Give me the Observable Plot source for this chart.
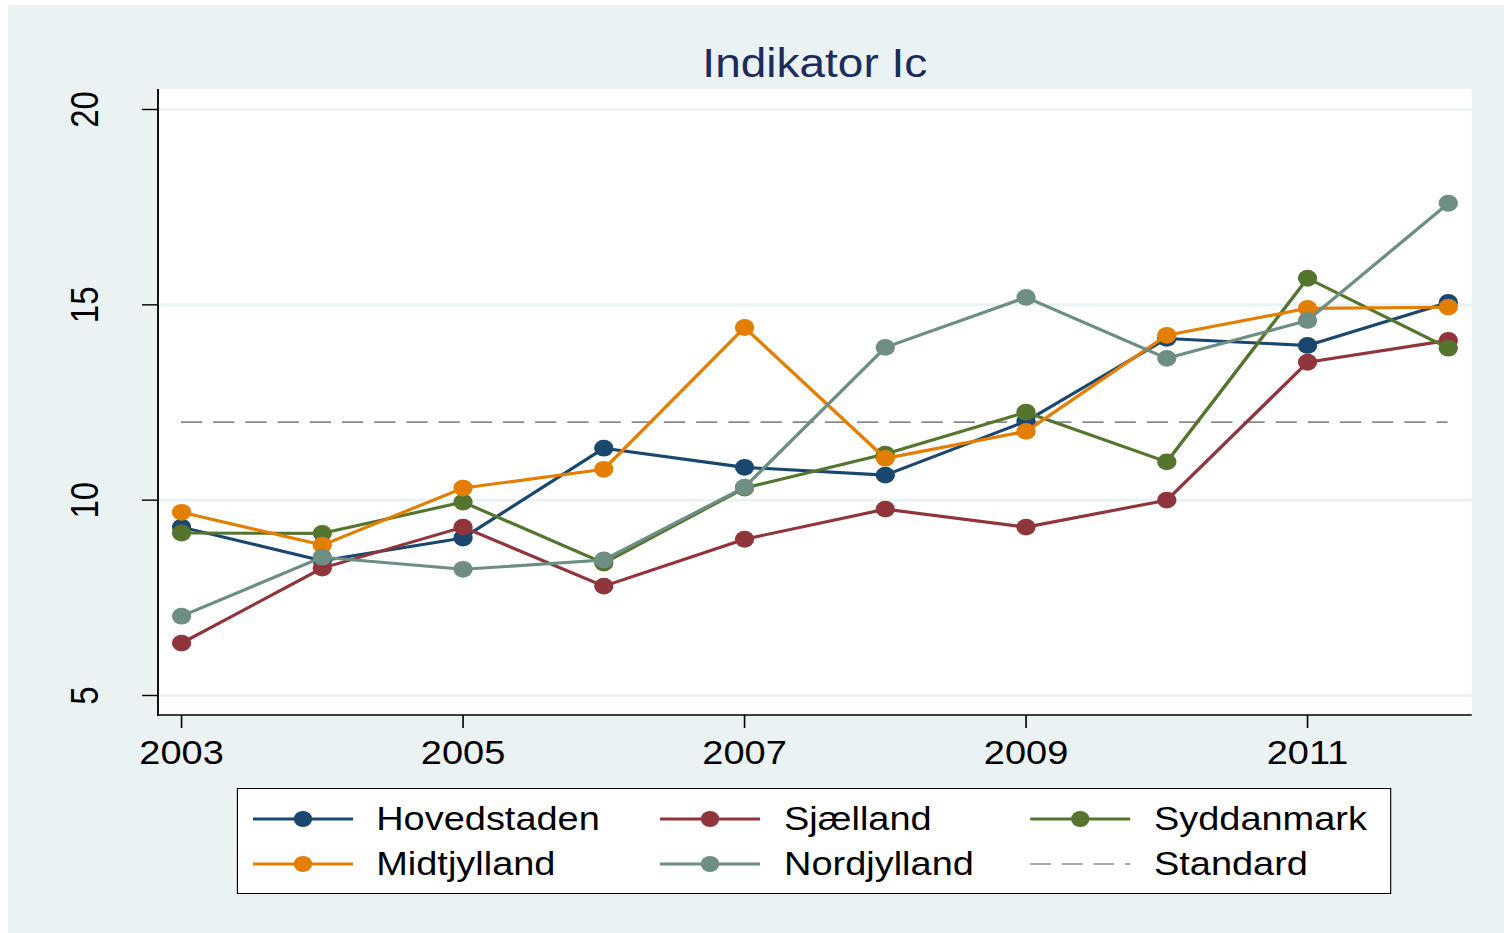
<!DOCTYPE html>
<html>
<head>
<meta charset="utf-8">
<script src="https://cdn.jsdelivr.net/npm/d3@7"></script>
<script src="https://cdn.jsdelivr.net/npm/@observablehq/plot@0.6"></script>
<style>
html, body { margin: 0; padding: 0; background: #ffffff; overflow: hidden; }
#stage { position: absolute; left: 0; top: 0; width: 1308px; height: 933px;
  transform: scaleX(1.1498); transform-origin: 0 0;
  font-family: "Liberation Sans", Arial, sans-serif; }
#panel { position: absolute; left: 7px; top: 5px; right: 0; bottom: 0; background: #EAF2F3; }
#title { position: absolute; left: 137.4px; width: 1142.6px; top: 43px; line-height: 40px;
  text-align: center; font-size: 40px; color: #1c2c5c; }
#chart { position: absolute; left: 0; top: 85px; }
#legend { position: absolute; left: 206px; top: 788px; width: 1004px; height: 106px;
  box-sizing: border-box; border: 1.4px solid #000; background: #fff; }
.item { position: absolute; height: 40px; display: flex; align-items: center;
  font-size: 33px; line-height: 40px; color: #000; white-space: nowrap; }
.item svg { margin-right: 20.6px; overflow: visible; }
</style>
</head>
<body>
<div id="stage">
  <div id="panel"></div>
  <div id="title"></div>
  <div id="chart"></div>
  <div id="legend"></div>
</div>
<script>
// ---- data ----
const years = [2003, 2004, 2005, 2006, 2007, 2008, 2009, 2010, 2011, 2012];
const seriesNames = ["Hovedstaden", "Sjælland", "Syddanmark", "Midtjylland", "Nordjylland"];
const hovedstaden = [9.31, 8.45, 9.03, 11.33, 10.84, 10.64, 12.02, 14.14, 13.96, 15.06];
const sjaelland   = [6.34, 8.26, 9.31, 7.80, 9.00, 9.77, 9.31, 10.00, 13.53, 14.09];
const syddanmark  = [9.16, 9.15, 9.95, 8.39, 10.31, 11.18, 12.25, 10.98, 15.68, 13.89];
const midtjylland = [9.69, 8.85, 10.31, 10.79, 14.42, 11.07, 11.76, 14.22, 14.91, 14.94];
const nordjylland = [7.03, 8.54, 8.23, 8.47, 10.33, 13.91, 15.19, 13.63, 14.60, 17.60];
const standardValue = 12;
const standardLabel = "Standard";
const xTicks = [2003, 2005, 2007, 2009, 2011];
const yTicks = [5, 10, 15, 20];
const titleText = "Indikator Ic";

// ---- styles ----
const colors = ["#1A476F", "#90353B", "#55752F", "#E37E00", "#6E8E84"];
const bg = "#EAF2F3";
const dash = "18.5,9.5";

const seriesValues = [hovedstaden, sjaelland, syddanmark, midtjylland, nordjylland];
const rows = [];
seriesNames.forEach((name, i) => {
  years.forEach((yr, j) => rows.push({region: name, year: yr, value: seriesValues[i][j]}));
});

document.getElementById("title").textContent = titleText;

const frameBg = (index, scales, values, dims) => {
  const g = d3.create("svg:g");
  g.append("rect")
    .attr("x", dims.marginLeft).attr("y", dims.marginTop)
    .attr("width", dims.width - dims.marginLeft - dims.marginRight)
    .attr("height", dims.height - dims.marginTop - dims.marginBottom)
    .attr("fill", "white");
  return g.node();
};
const axisLines = (index, scales, values, dims) => {
  const g = d3.create("svg:g").attr("stroke", "#000").attr("stroke-width", 1.6);
  const x0 = dims.marginLeft, x1 = dims.width - dims.marginRight;
  const y0 = dims.marginTop, y1 = dims.height - dims.marginBottom;
  g.append("line").attr("x1", x0).attr("x2", x0).attr("y1", y0).attr("y2", y1 + 0.8);
  g.append("line").attr("x1", x0 - 0.8).attr("x2", x1).attr("y1", y1).attr("y2", y1);
  return g.node();
};

const marks = [
  frameBg,
  Plot.gridY(yTicks, {stroke: bg, strokeOpacity: 1, strokeWidth: 2.6}),
  Plot.ruleY([standardValue], {x1: years[0], x2: years[years.length - 1],
    stroke: "#8a8a8a", strokeWidth: 1.7, strokeDasharray: dash}),
];
seriesNames.forEach((name, i) => {
  const d = rows.filter(r => r.region === name);
  marks.push(Plot.line(d, {x: "year", y: "value", stroke: colors[i], strokeWidth: 3.1}));
  marks.push(Plot.dot(d, {x: "year", y: "value", r: 8.4, fill: colors[i], stroke: "none"}));
});
marks.push(axisLines);
marks.push(Plot.axisX(xTicks, {tickSize: 13, tickPadding: 12, tickFormat: "d", label: null,
  fontSize: 33, stroke: "#000", strokeWidth: 1.4}));
marks.push(Plot.axisY(yTicks, {tickSize: 13.9, tickPadding: 39, tickRotate: -90, label: null,
  fontSize: 33, stroke: "#000", strokeWidth: 1.4}));

const chart = Plot.plot({
  width: 1308,
  height: 700,
  marginLeft: 137.4,
  marginRight: 28,
  marginTop: 4,
  marginBottom: 70,
  style: {background: "transparent", fontFamily: "'Liberation Sans', Arial, sans-serif", color: "#000", overflow: "visible"},
  x: {domain: [years[0], years[years.length - 1]], insetLeft: 20, insetRight: 20.9},
  y: {domain: [yTicks[0], yTicks[yTicks.length - 1]], insetTop: 20, insetBottom: 20},
  marks
});
document.getElementById("chart").appendChild(chart);

// ---- legend ----
const legend = document.getElementById("legend");
const legendItems = [
  {label: seriesNames[0], color: colors[0], type: "series"},
  {label: seriesNames[1], color: colors[1], type: "series"},
  {label: seriesNames[2], color: colors[2], type: "series"},
  {label: seriesNames[3], color: colors[3], type: "series"},
  {label: seriesNames[4], color: colors[4], type: "series"},
  {label: standardLabel, color: "#8c8c8c", type: "dash"}
];
const colLeft = [12.6, 367.3, 689];
const rowTop = [9.6, 54.6];
legendItems.forEach((it, k) => {
  const div = document.createElement("div");
  div.className = "item";
  div.style.left = colLeft[k % 3] + "px";
  div.style.top = rowTop[Math.floor(k / 3)] + "px";
  const svg = d3.create("svg").attr("width", 87).attr("height", 20);
  if (it.type === "series") {
    svg.append("line").attr("x1", 0).attr("x2", 87).attr("y1", 10).attr("y2", 10)
      .attr("stroke", it.color).attr("stroke-width", 2.8);
    svg.append("circle").attr("cx", 43.5).attr("cy", 10).attr("r", 8).attr("fill", it.color);
  } else {
    svg.append("line").attr("x1", 0).attr("x2", 87).attr("y1", 10).attr("y2", 10)
      .attr("stroke", it.color).attr("stroke-width", 1.4).attr("stroke-dasharray", "18,9.5");
  }
  div.appendChild(svg.node());
  const span = document.createElement("span");
  span.textContent = it.label;
  div.appendChild(span);
  legend.appendChild(div);
});
</script>
</body>
</html>
